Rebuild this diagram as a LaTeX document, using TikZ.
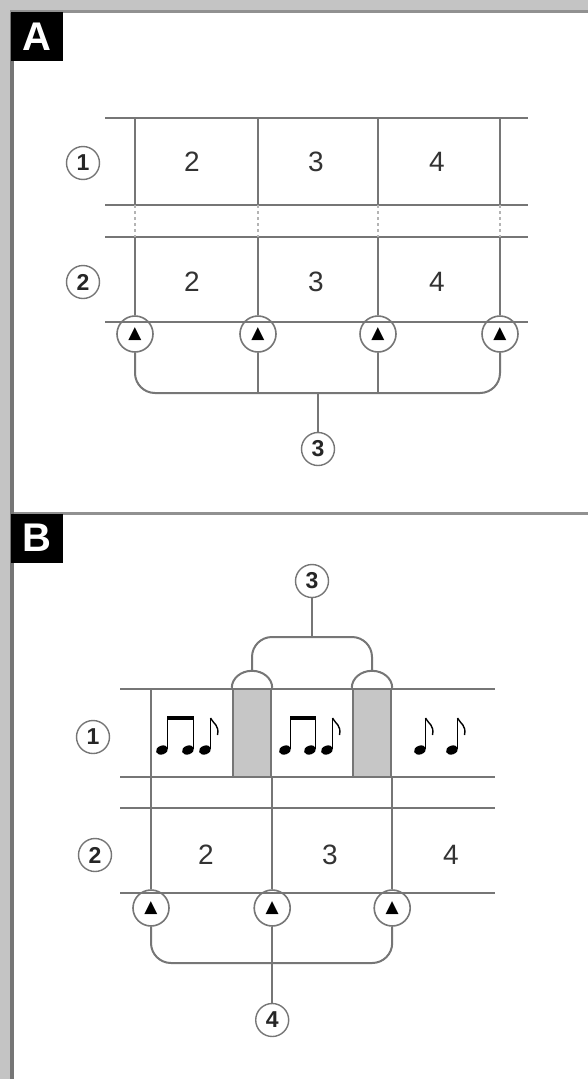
\documentclass[tikz,border=0pt]{standalone}
\usepackage{fontspec}
\setmainfont{Liberation Sans}
\newfontfamily\symfont{DejaVu Sans}
\usetikzlibrary{positioning}
\definecolor{linegray}{RGB}{118,118,118}
\definecolor{fillgray}{RGB}{198,198,198}
\definecolor{framegray}{RGB}{196,196,196}
\tikzstyle{grid_line} = [draw=linegray, line width=2pt]
\tikzstyle{gap_line} = [draw=linegray!55, line width=1.2pt, dashed]
\tikzstyle{node_panel} = [fill=black, text=white, inner sep=0pt, minimum width=52pt, minimum height=49pt, font=\fontsize{40}{40}\selectfont\bfseries]
\tikzstyle{node_circled} = [circle, draw=linegray, line width=1.4pt, inner sep=0pt, minimum size=33pt, font=\fontsize{23}{23}\selectfont\bfseries, text=black!85]
\tikzstyle{node_pointer} = [circle, draw=linegray, line width=1.6pt, inner sep=0pt, minimum size=36pt, font=\symfont\fontsize{17}{17}\selectfont]
\tikzstyle{node_value} = [font=\fontsize{28}{28}\selectfont, text=black!80]
\tikzstyle{node_shaded} = [draw=linegray, line width=2.4pt, fill=fillgray, inner sep=0pt, minimum width=38pt, minimum height=88pt]
\tikzstyle{edge_bracket} = [draw=linegray, line width=2pt, rounded corners=20pt]
\tikzstyle{edge_normal} = [draw=linegray, line width=2pt]
\tikzstyle{note_head} = [fill=black]
\tikzstyle{note_stem} = [draw=black, line width=1.6pt]

\begin{document}
\begin{tikzpicture}[x=1pt, y=-1pt]
\useasboundingbox (0,0) rectangle (588,1079);
\fill[white] (0,0) rectangle (588,1079);
\fill[framegray] (0,0) rectangle (588,10);
\fill[framegray] (0,0) rectangle (10,1079);
\fill[linegray] (10,10) rectangle (14,1079);
\fill[linegray!80] (10,10) rectangle (588,12.5);
\fill[linegray!80] (14,512) rectangle (588,515);

% panel A
\node (PA) at (37,36.5) [node_panel] {A};
\draw[grid_line] (105,118) -- (528,118) (105,205) -- (528,205);
\draw[grid_line] (105,237) -- (528,237) (105,322) -- (528,322);
\node (a1) at (83,163) [node_circled] {1};
\node (a2) at (83,282) [node_circled] {2};
\node (va12) at (192,162) [node_value] {2};
\node (va13) at (316,162) [node_value] {3};
\node (va14) at (437,162) [node_value] {4};
\node (va22) at (192,282) [node_value] {2};
\node (va23) at (316,282) [node_value] {3};
\node (va24) at (437,282) [node_value] {4};
\node (pa1) at (135,334) [node_pointer] {▲};
\node (pa2) at (258,334) [node_pointer] {▲};
\node (pa3) at (378,334) [node_pointer] {▲};
\node (pa4) at (500,334) [node_pointer] {▲};
\draw[edge_normal] (pa1.north |- 0,118) -- (pa1.north |- 0,205) (pa1.north |- 0,237) -- (pa1.north);
\draw[edge_normal] (pa2.north |- 0,118) -- (pa2.north |- 0,205) (pa2.north |- 0,237) -- (pa2.north);
\draw[edge_normal] (pa3.north |- 0,118) -- (pa3.north |- 0,205) (pa3.north |- 0,237) -- (pa3.north);
\draw[edge_normal] (pa4.north |- 0,118) -- (pa4.north |- 0,205) (pa4.north |- 0,237) -- (pa4.north);
\draw[gap_line] (135,205) -- (135,237) (258,205) -- (258,237) (378,205) -- (378,237) (500,205) -- (500,237);
\node (a3) at (318,449) [node_circled] {3};
\coordinate (ja) at (318,393);
\draw[edge_bracket] (pa1.south) |- (ja) -| (pa4.south);
\draw[edge_normal] (pa2.south) -- (pa2.south |- ja) (pa3.south) -- (pa3.south |- ja);
\draw[edge_normal] (ja) -- (a3.north);

% panel B
\node (PB) at (37,538) [node_panel] {B};
\draw[grid_line] (120,689) -- (495,689) (120,777) -- (495,777);
\draw[grid_line] (120,808) -- (495,808) (120,893) -- (495,893);
\node (b1) at (93,737) [node_circled] {1};
\node (b2) at (95,855) [node_circled] {2};
\node (vb22) at (206,855) [node_value] {2};
\node (vb23) at (330,855) [node_value] {3};
\node (vb24) at (451,855) [node_value] {4};
\node (sb1) at (252,733) [node_shaded] {};
\node (sb2) at (372,733) [node_shaded] {};
\draw[edge_normal] (sb1.north west) arc[start angle=180, end angle=360, x radius=20.2, y radius=17];
\draw[edge_normal] (sb2.north west) arc[start angle=180, end angle=360, x radius=20.2, y radius=17];
\path (sb1.north) ++(0,-17) coordinate (tb1);
\path (sb2.north) ++(0,-17) coordinate (tb2);
\node (b3) at (312,581) [node_circled] {3};
\coordinate (jb) at (312,637);
\draw[edge_bracket] (tb1) |- (jb) -| (tb2);
\draw[edge_normal] (jb) -- (b3.south);
\node (pb1) at (151,908) [node_pointer] {▲};
\node (pb2) at (sb1.south east |- 0,908) [node_pointer] {▲};
\node (pb3) at (sb2.south east |- 0,908) [node_pointer] {▲};
\draw[edge_normal] (pb1.north |- 0,689) -- (pb1.north);
\draw[edge_normal] (sb1.south east) -- (pb2.north);
\draw[edge_normal] (sb2.south east) -- (pb3.north);
\node (b4) at (pb2 |- 0,1020) [node_circled] {4};
\coordinate (jc) at (pb2 |- 0,963);
\draw[edge_bracket] (pb1.south) |- (jc) -| (pb3.south);
\draw[edge_normal] (pb2.south) -- (b4.north);

% notes
\def\hy{750}
\foreach \hx in {162,188,205,285,310,327,420,452}
  \fill[note_head, rotate around={20:(\hx,\hy)}] (\hx,\hy) ellipse [x radius=6.2, y radius=4.4];
\foreach \sx in {167.5,193.5,210.5,290.5,315.5,332.5,425.5,457.5}
  \draw[note_stem] (\sx,\hy-1) -- (\sx,718);
\fill (166.7,716) rectangle (194.3,720);
\fill (289.7,716) rectangle (316.3,720);
\foreach \sx in {210.5,332.5,425.5,457.5}
  \draw[note_stem, line width=1.4pt] (\sx,718) .. controls (\sx+3,724) and (\sx+9,725) .. (\sx+7,735);
\end{tikzpicture}
\end{document}
